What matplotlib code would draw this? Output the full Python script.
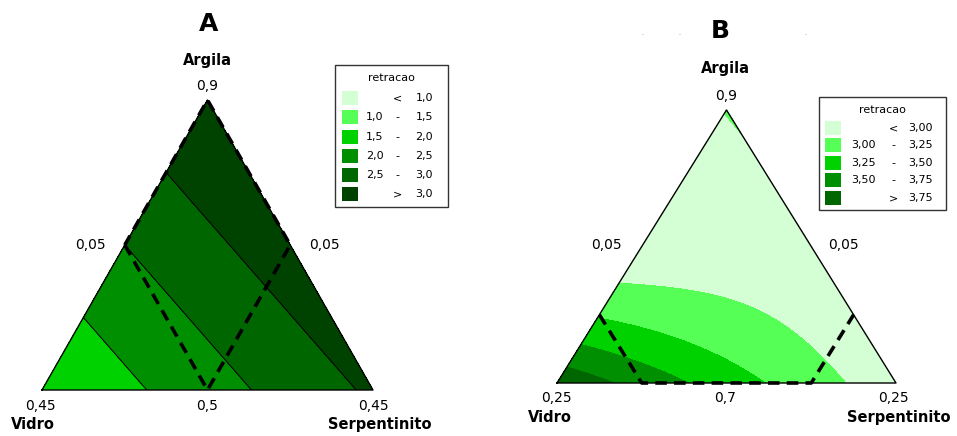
import matplotlib.pyplot as plt
import matplotlib.tri as mtri
import numpy as np
from matplotlib.patches import Rectangle

W, H = 957, 436

# componentes da mistura: Vidro (canto esq.), Serpentinito (canto dir.), Argila (topo)
# A: modelo linear -> retracao nos vertices
coef_a = [1.5, 3.08, 3.5]
levels_a = [1.0, 1.5, 2.0, 2.5, 3.0]
colors_a = ['#d4ffd4', '#55ff55', '#00d200', '#008f00', '#006600', '#004200']
leg_a_lo = ['', '1,0', '1,5', '2,0', '2,5', '']
leg_a_hi = ['1,0', '1,5', '2,0', '2,5', '3,0', '3,0']

# B: modelo quadratico + termo cubico especial
coef_b1 = [3.95, 2.85, 3.02]      # V, S, A
coef_b2 = [-0.1, -2.63, -0.07]    # V*S, V*A, S*A
coef_b3 = 0.5                     # V*S*A
levels_b = [3.00, 3.25, 3.50, 3.75]
colors_b = ['#d4ffd4', '#55ff55', '#00d200', '#008f00', '#006600']
leg_b_lo = ['', '3,00', '3,25', '3,50', '']
leg_b_hi = ['3,00', '3,25', '3,50', '3,75', '3,75']

# regioes tracejadas (V, S, A)
reg_a = [(0.5, 0, 0.5), (0.5, 0.5, 0), (0, 0.5, 0.5), (0, 0, 1), (0.5, 0, 0.5)]
reg_b = [(0.75, 0, 0.25), (0.75, 0.25, 0), (0.25, 0.75, 0), (0, 0.75, 0.25)]


def px(x, y):
    return x / W, 1 - y / H


def bary_xy(v, s, a):
    return np.asarray(s) + 0.5 * np.asarray(a), np.asarray(a)


def grid(n=150):
    pts = [(i / n, j / n, (n - i - j) / n) for i in range(n + 1) for j in range(n + 1 - i)]
    return np.array(pts).T


fig = plt.figure(figsize=(W / 100, H / 100), dpi=100)

V, S, A = grid()
x, y = bary_xy(V, S, A)
tri = mtri.Triangulation(x, y)

# ---------- A ----------
axA = fig.add_axes([42 / W, 1 - 390 / H, 331 / W, 290 / H])
za = coef_a[0] * V + coef_a[1] * S + coef_a[2] * A
axA.tricontourf(tri, za, levels=[-10] + levels_a + [10], colors=colors_a)
axA.tricontour(tri, za, levels=levels_a, colors='k', linewidths=0.7)

# ---------- B ----------
axB = fig.add_axes([557 / W, 1 - 383 / H, 339 / W, 273 / H])
zb = (coef_b1[0] * V + coef_b1[1] * S + coef_b1[2] * A
      + coef_b2[0] * V * S + coef_b2[1] * V * A + coef_b2[2] * S * A
      + coef_b3 * V * S * A)
axB.tricontourf(tri, zb, levels=[-10] + levels_b + [10], colors=colors_b)

for ax, reg in [(axA, reg_a), (axB, reg_b)]:
    ax.plot([0, 1, 0.5, 0], [0, 0, 1, 0], color='k', lw=1.0, clip_on=False)
    rv, rs, ra = zip(*reg)
    rx, ry = bary_xy(rv, rs, ra)
    ax.plot(rx, ry, color='k', lw=2.6, ls=(0, (3.2, 2.0)), clip_on=False)
    ax.set_xlim(0, 1)
    ax.set_ylim(0, 1)
    ax.axis('off')

# ---------- textos ----------
def txt(xp, yp, s, size=10, bold=False, color='k'):
    fig.text(*px(xp, yp), s, ha='center', va='center', fontsize=size,
             fontweight='bold' if bold else 'normal', color=color)


txt(209, 24, 'A', size=18, bold=True)
txt(207, 60, 'Argila', size=10.5, bold=True)
txt(207, 86, '0,9')
txt(90, 245, '0,05')
txt(324, 245, '0,05')
txt(40, 406, '0,45')
txt(33, 424, 'Vidro', size=10.5, bold=True)
txt(207, 406, '0,5')
txt(373, 406, '0,45')
txt(380, 424, 'Serpentinito', size=10.5, bold=True)

txt(720, 31, 'B', size=18, bold=True)
for xd in [643, 680, 806]:
    txt(xd, 35, '-', size=4, color='#888888')
txt(725, 69, 'Argila', size=10.5, bold=True)
txt(726, 96, '0,9')
txt(606, 245, '0,05')
txt(843, 245, '0,05')
txt(556, 398, '0,25')
txt(550, 417, 'Vidro', size=10.5, bold=True)
txt(725, 398, '0,7')
txt(893, 398, '0,25')
txt(899, 417, 'Serpentinito', size=10.5, bold=True)


# ---------- legendas ----------
def legend(box, title_y, rows_y, lo, hi, cols, xs):
    x0, y0, x1, y1 = box
    (bx0, by0) = px(x0, y1)
    fig.patches.append(Rectangle((bx0, by0), (x1 - x0) / W, (y1 - y0) / H,
                                 transform=fig.transFigure, fill=False,
                                 edgecolor='#333333', lw=1.0))
    txt((x0 + x1) / 2, title_y, 'retracao', size=8)
    sw, sym_x, lo_x, hi_x = xs
    n = len(cols)
    for i, (yr, c) in enumerate(zip(rows_y, cols)):
        sx, sy = px(sw, yr + 7)
        fig.patches.append(Rectangle((sx, sy), 16 / W, 14 / H,
                                     transform=fig.transFigure, color=c, lw=0))
        if i == 0:
            sym = '<'
        elif i == n - 1:
            sym = '>'
        else:
            sym = '-'
        fig.text(*px(sym_x, yr), sym, ha='center', va='center', fontsize=8)
        if lo[i]:
            fig.text(*px(lo_x, yr), lo[i], ha='left', va='center', fontsize=8)
        fig.text(*px(hi_x, yr), hi[i], ha='right', va='center', fontsize=8)


legend((335, 65, 448, 207), 78, [98, 117, 137, 156, 175, 194],
       leg_a_lo, leg_a_hi, colors_a, (342, 397, 366, 433))
legend((819, 97, 946, 210), 110, [128, 145, 163, 180, 198],
       leg_b_lo, leg_b_hi, colors_b, (825, 893, 851, 933))

fig.savefig('out.png', dpi=100)
